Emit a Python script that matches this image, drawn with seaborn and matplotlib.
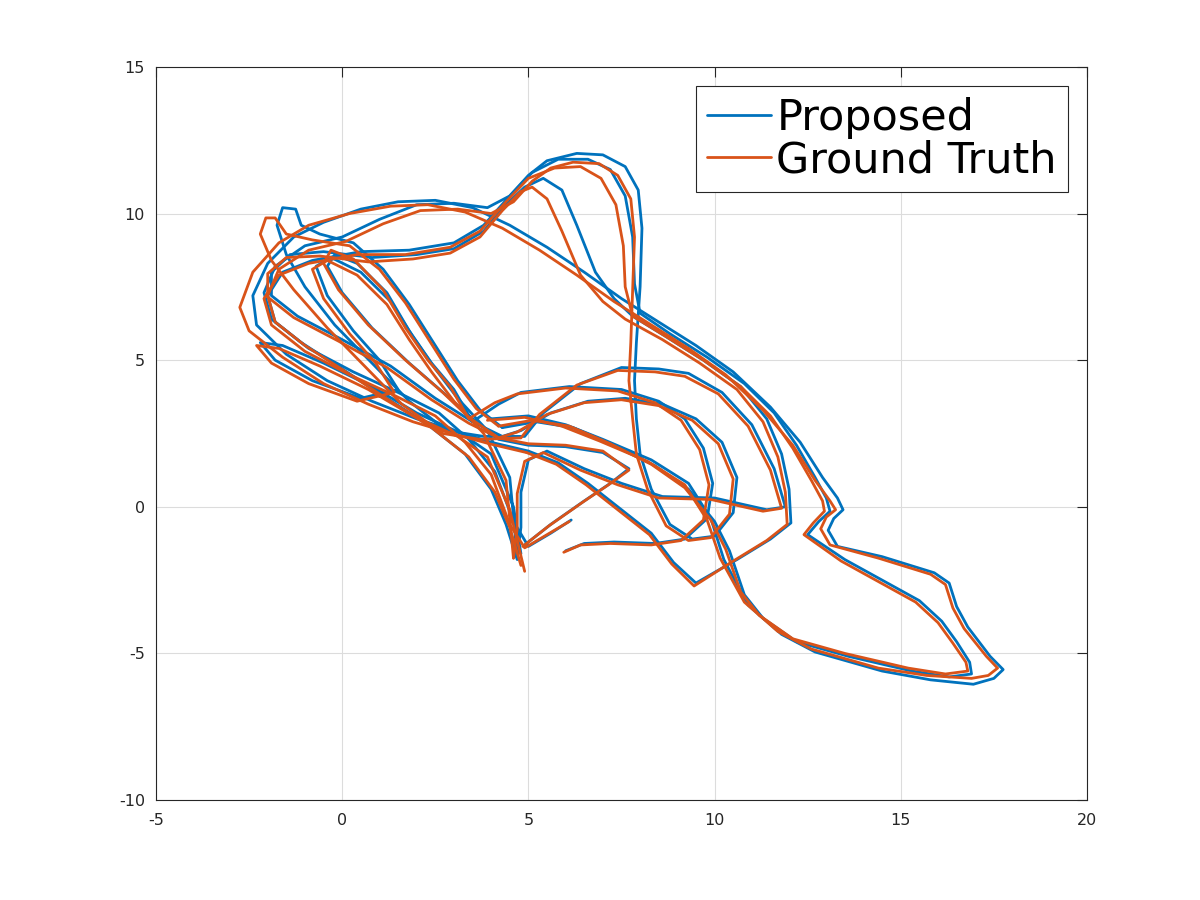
import pandas as pd
import seaborn as sns
import matplotlib.pyplot as plt
from matplotlib.lines import Line2D

# trajektori verisi, grafikten okunan yaklasik noktalar (x, y)
prop_lap1 = [(4.7,-1.8),(4.4,-0.6),(4.0,0.6),(3.3,1.8),(2.3,2.8),(1.2,3.7),(0.0,4.7),(-1.1,5.6),(-1.9,6.4),(-2.1,7.3),(-1.8,8.2),(-1.0,8.9),(0.0,9.2),(1.0,9.8),(2.0,10.3),(3.0,10.35),(3.9,10.2),(4.5,10.6),(5.0,11.3),(5.5,11.8),(6.3,12.05),(7.0,12.0),(7.6,11.6),(7.95,10.8),(8.05,9.5),(8.0,7.5),(7.9,5.6),(7.85,4.3),(7.9,3.0),(8.0,1.8),(8.3,0.6),(8.8,-0.6),(9.4,-1.1),(10.0,-1.0),(10.5,-0.2),(10.6,1.0),(10.2,2.2),(9.5,3.0),(8.6,3.5),(7.6,3.7),(6.6,3.6),(5.6,3.2),(4.8,2.6),(4.3,2.4)]
prop_lap2 = [(4.3,2.4),(3.5,2.9),(2.5,3.7),(1.3,4.8),(0.0,5.7),(-1.2,6.5),(-1.9,7.2),(-1.9,8.0),(-1.4,8.6),(-0.5,8.7),(0.8,8.5),(2.0,8.6),(3.0,8.8),(3.8,9.4),(4.4,10.3),(4.9,10.9),(5.4,11.2),(5.9,10.8),(6.3,9.6),(6.8,8.0),(7.3,7.1),(7.8,6.5),(8.7,5.8),(9.7,5.0),(10.7,4.1),(11.4,3.0),(11.8,1.8),(12.0,0.6),(12.05,-0.55),(11.5,-1.1),(10.6,-1.8),(9.5,-2.6),(8.9,-1.9),(8.3,-0.9),(7.5,-0.1),(6.6,0.8),(5.8,1.5),(5.0,1.9)]
prop_lap3 = [(5.0,1.9),(4.0,2.2),(3.0,2.6),(2.0,3.0),(0.8,3.6),(-0.4,4.3),(-1.5,5.2),(-2.3,6.2),(-2.4,7.2),(-2.0,8.3),(-1.3,9.2),(-0.5,9.7),(0.5,10.15),(1.5,10.4),(2.5,10.45),(3.5,10.2),(4.5,9.6),(5.5,8.85),(6.5,8.0),(7.5,7.1),(8.5,6.3),(9.5,5.5),(10.5,4.6),(11.5,3.4),(12.3,2.2),(12.9,1.0),(13.3,0.3),(13.45,-0.1),(13.2,-0.4),(13.05,-0.8),(13.3,-1.35),(14.5,-1.7),(15.9,-2.25),(16.3,-2.6),(16.5,-3.4),(16.8,-4.1),(17.4,-5.1),(17.75,-5.55),(17.5,-5.85),(16.95,-6.05),(15.8,-5.9),(14.5,-5.6),(12.7,-4.95),(11.8,-4.35),(10.9,-3.35),(10.25,-1.8),(9.9,-0.4),(9.3,0.8),(8.3,1.6),(7.0,2.3),(6.0,2.8),(5.0,3.1),(4.0,3.0)]
prop_lap4 = [(4.9,-1.3),(5.6,-0.6),(6.5,0.2),(7.2,0.8),(7.7,1.3),(7.0,1.85),(6.0,2.05),(5.0,2.1),(4.2,2.3),(3.5,3.0),(2.8,3.8),(1.8,4.9),(0.8,6.1),(0.0,7.3),(-0.4,8.2),(-0.2,8.6),(0.4,8.3),(1.2,7.3),(1.8,6.0),(2.4,4.9),(3.0,4.0),(3.5,2.9),(4.2,3.5),(4.8,3.9),(6.1,4.1),(7.5,4.0),(8.5,3.6),(9.2,3.0),(9.7,2.0),(9.95,0.8),(9.8,-0.4),(9.2,-1.1),(8.4,-1.25),(7.3,-1.2),(6.5,-1.25),(6.0,-1.5)]
prop_lap5 = [(6.15,-0.45),(5.6,-0.9),(5.0,-1.35),(4.6,-0.5),(4.1,1.2),(3.4,2.3),(2.6,3.2),(1.5,3.9),(0.3,4.6),(-0.9,5.4),(-1.8,6.3),(-2.0,7.2),(-1.6,8.0),(-0.8,8.4),(0.5,8.7),(1.8,8.75),(3.0,9.0),(3.8,9.6),(4.5,10.6),(5.1,11.4),(5.8,11.85),(6.6,11.85),(7.2,11.5),(7.6,10.6),(7.8,9.2),(7.85,7.6),(8.0,6.6),(8.8,5.9),(9.8,5.1),(10.8,4.2),(11.6,3.2),(12.2,2.1),(12.7,1.0),(13.0,0.3),(13.1,-0.15),(12.8,-0.5),(12.5,-0.95),(13.5,-1.8),(14.5,-2.5),(15.5,-3.2),(16.1,-3.9),(16.5,-4.6),(16.85,-5.3),(16.9,-5.7),(16.3,-5.8),(15.3,-5.6),(13.6,-5.1),(12.2,-4.6),(11.3,-3.8),(10.8,-3.0),(10.4,-1.5),(10.0,-0.5),(9.3,0.6),(8.4,1.4),(7.3,2.1),(6.2,2.7),(5.2,2.9),(4.3,2.7)]
prop_lap6 = [(4.3,2.7),(3.7,3.3),(3.1,4.3),(2.5,5.5),(1.8,6.9),(1.1,8.1),(0.3,9.0),(-0.6,9.3),(-1.1,9.6),(-1.25,10.15),(-1.6,10.2),(-1.75,9.6),(-1.5,8.6),(-1.0,7.5),(-0.2,6.2),(0.8,4.9),(1.8,3.6),(2.8,2.6),(3.8,2.4),(4.9,2.4),(5.4,3.2),(6.4,4.2),(7.5,4.75),(8.5,4.7),(9.3,4.55),(10.2,3.9),(11.0,2.8),(11.6,1.3),(11.9,0.0),(11.4,-0.1),(10.0,0.3),(8.6,0.35),(7.5,0.8),(6.5,1.3),(5.5,1.9),(5.0,1.6),(4.8,0.5),(4.8,-0.7),(4.7,-1.7)]
prop_lap7 = [(4.7,-1.7),(4.5,1.0),(3.9,2.6),(3.1,3.7),(2.5,4.7),(1.9,5.8),(1.3,7.0),(0.5,8.0),(-0.3,8.5),(-0.7,8.2),(-0.4,7.2),(0.3,6.0),(1.0,5.0),(1.5,4.0),(0.5,3.7),(-0.8,4.3),(-1.8,5.0),(-2.2,5.6),(-1.6,5.5),(-0.5,4.9),(0.8,4.1),(2.0,3.2),(3.2,2.5),(4.0,1.8),(4.6,0.0),(4.8,-1.6)]

gt_lap1 = [(4.8,-2.0),(4.5,-0.7),(4.1,0.5),(3.4,1.7),(2.4,2.7),(1.3,3.6),(0.1,4.6),(-1.0,5.5),(-1.8,6.3),(-2.0,7.2),(-1.7,8.1),(-0.9,8.75),(0.1,9.05),(1.1,9.65),(2.1,10.1),(3.1,10.15),(4.0,10.0),(4.6,10.4),(5.1,11.1),(5.6,11.55),(6.2,11.75),(6.9,11.7),(7.4,11.3),(7.75,10.5),(7.85,9.2),(7.8,7.4),(7.75,5.6),(7.7,4.3),(7.8,3.0),(7.9,1.8),(8.2,0.6),(8.7,-0.65),(9.3,-1.15),(9.9,-1.05),(10.4,-0.25),(10.5,0.95),(10.1,2.15),(9.4,2.95),(8.5,3.45),(7.5,3.65),(6.5,3.55),(5.5,3.15),(4.7,2.55),(4.2,2.35)]
gt_lap2 = [(4.2,2.35),(3.4,2.85),(2.4,3.65),(1.2,4.75),(-0.1,5.65),(-1.3,6.45),(-2.0,7.15),(-2.0,7.95),(-1.5,8.5),(-0.6,8.55),(0.7,8.35),(1.9,8.45),(2.9,8.65),(3.7,9.2),(4.3,10.1),(4.8,10.75),(5.1,10.9),(5.5,10.5),(5.9,9.4),(6.4,7.9),(7.0,7.0),(7.6,6.4),(8.6,5.7),(9.6,4.9),(10.6,4.0),(11.3,2.9),(11.7,1.7),(11.9,0.5),(11.95,-0.6),(11.4,-1.15),(10.5,-1.85),(9.45,-2.7),(8.85,-1.95),(8.25,-0.95),(7.45,-0.15),(6.55,0.75),(5.75,1.45),(4.95,1.85)]
gt_lap3 = [(4.95,1.85),(3.95,2.15),(2.95,2.5),(1.9,2.9),(0.7,3.5),(-0.5,4.2),(-1.6,5.1),(-2.5,6.0),(-2.75,6.8),(-2.4,8.0),(-1.7,9.0),(-0.9,9.6),(0.2,10.0),(1.3,10.25),(2.3,10.3),(3.3,10.05),(4.3,9.5),(5.3,8.75),(6.3,7.9),(7.3,7.0),(8.3,6.2),(9.3,5.4),(10.3,4.5),(11.3,3.3),(12.1,2.1),(12.7,0.9),(13.1,0.2),(13.25,-0.1),(13.0,-0.35),(12.85,-0.75),(13.1,-1.3),(14.4,-1.75),(15.8,-2.3),(16.2,-2.65),(16.4,-3.45),(16.7,-4.15),(17.3,-5.1),(17.6,-5.5),(17.35,-5.75),(16.9,-5.85),(15.7,-5.75),(14.4,-5.5),(12.6,-4.85),(11.7,-4.25),(10.8,-3.25),(10.15,-1.75),(9.8,-0.45),(9.2,0.75),(8.2,1.55),(6.9,2.25),(5.9,2.75),(4.9,3.05),(3.9,2.95)]
gt_lap4 = [(4.85,-1.35),(5.55,-0.65),(6.45,0.15),(7.15,0.75),(7.7,1.25),(7.0,1.9),(6.0,2.1),(5.0,2.15),(4.2,2.35),(3.4,3.05),(2.7,3.9),(1.7,5.0),(0.7,6.2),(-0.1,7.4),(-0.5,8.3),(-0.3,8.75),(0.3,8.45),(1.1,7.4),(1.7,6.1),(2.3,5.0),(2.9,4.1),(3.4,3.0),(4.1,3.55),(4.7,3.85),(6.0,4.05),(7.4,3.95),(8.4,3.55),(9.1,2.95),(9.6,1.95),(9.85,0.75),(9.7,-0.45),(9.1,-1.15),(8.3,-1.3),(7.2,-1.25),(6.4,-1.3),(5.95,-1.55)]
gt_lap5 = [(6.1,-0.5),(5.5,-0.95),(4.9,-1.4),(4.5,-0.6),(4.0,1.1),(3.3,2.2),(2.5,3.1),(1.4,3.8),(0.2,4.5),(-1.0,5.3),(-1.9,6.2),(-2.1,7.1),(-1.7,7.9),(-0.9,8.3),(0.4,8.6),(1.7,8.6),(2.9,8.85),(3.7,9.4),(4.4,10.4),(5.0,11.2),(5.7,11.55),(6.4,11.6),(6.95,11.2),(7.35,10.3),(7.55,8.9),(7.6,7.5),(7.8,6.5),(8.7,5.8),(9.7,5.0),(10.7,4.1),(11.5,3.1),(12.1,2.0),(12.6,0.9),(12.9,0.2),(12.95,-0.15),(12.65,-0.55),(12.4,-0.95),(13.4,-1.85),(14.4,-2.55),(15.4,-3.25),(16.0,-3.95),(16.4,-4.65),(16.75,-5.3),(16.8,-5.6),(16.2,-5.7),(15.2,-5.5),(13.5,-5.0),(12.1,-4.5),(11.2,-3.7),(10.7,-2.9),(10.3,-1.45),(9.9,-0.45),(9.2,0.65),(8.3,1.45),(7.2,2.15),(6.1,2.75),(5.1,2.95),(4.2,2.75)]
gt_lap6 = [(4.2,2.75),(3.6,3.35),(3.0,4.35),(2.4,5.55),(1.7,6.95),(1.0,8.1),(0.2,8.9),(-0.8,9.1),(-1.5,9.3),(-1.8,9.85),(-2.05,9.85),(-2.2,9.3),(-1.9,8.4),(-1.3,7.4),(-0.4,6.1),(0.6,4.8),(1.6,3.5),(2.7,2.5),(3.7,2.3),(4.8,2.35),(5.3,3.15),(6.3,4.15),(7.4,4.65),(8.4,4.6),(9.2,4.45),(10.1,3.85),(10.9,2.75),(11.5,1.25),(11.8,-0.05),(11.3,-0.15),(9.9,0.25),(8.5,0.3),(7.4,0.75),(6.4,1.25),(5.4,1.85),(4.9,1.55),(4.7,0.45),(4.7,-0.75),(4.6,-1.75)]
gt_lap7 = [(4.6,-1.75),(4.4,0.9),(3.8,2.5),(3.0,3.6),(2.4,4.6),(1.8,5.7),(1.2,6.9),(0.4,7.9),(-0.4,8.4),(-0.8,8.1),(-0.5,7.1),(0.2,5.9),(0.9,4.9),(1.4,3.9),(0.4,3.6),(-0.9,4.2),(-1.9,4.9),(-2.3,5.5),(-1.7,5.4),(-0.6,4.8),(0.7,4.0),(1.9,3.1),(3.1,2.4),(3.9,1.7),(4.5,-0.1),(4.9,-2.2)]

prop_laps = [prop_lap1, prop_lap2, prop_lap3, prop_lap4, prop_lap5, prop_lap6, prop_lap7]
gt_laps = [gt_lap1, gt_lap2, gt_lap3, gt_lap4, gt_lap5, gt_lap6, gt_lap7]
series_names = ['Proposed', 'Ground Truth']
series_colors = ['#0072BD', '#D95319']

# uzun formatta tablo
rows = []
for name, laps in zip(series_names, [prop_laps, gt_laps]):
    for i, lap in enumerate(laps):
        for x, y in lap:
            rows.append({'x': x, 'y': y, 'series': name, 'lap': f'{name}_{i}'})
df = pd.DataFrame(rows)

sns.set_style('white')
plt.rcParams['font.family'] = ['DejaVu Sans']
plt.rcParams['axes.unicode_minus'] = False

fig = plt.figure(figsize=(12, 9), dpi=100)
ax = fig.add_axes([0.13, 0.111, 0.7758, 0.8147])

sns.lineplot(data=df, x='x', y='y', hue='series', hue_order=series_names,
             palette=series_colors, units='lap', estimator=None, sort=False,
             linewidth=2.0, legend=False, ax=ax)

ax.set_xlim(-5, 20)
ax.set_ylim(-10, 15)
ax.set_xticks(range(-5, 21, 5))
ax.set_yticks(range(-10, 16, 5))
ax.set_xlabel('')
ax.set_ylabel('')
ax.grid(True, color='#dcdcdc', linewidth=0.8)
ax.set_axisbelow(True)
for s in ax.spines.values():
    s.set_visible(True)
    s.set_color('#262626')
    s.set_linewidth(0.8)
ax.tick_params(direction='in', length=7, width=0.8, colors='#262626',
               labelsize=11.5, top=True, right=True)
ax.tick_params(axis='x', pad=9)
ax.tick_params(axis='y', pad=8)

handles = [Line2D([0], [0], color=c, lw=2.0) for c in series_colors]
leg = ax.legend(handles, series_names, loc='upper right', fontsize=31,
                handlelength=1.5, handletextpad=0.12, labelspacing=0.0,
                borderpad=0.25, borderaxespad=0.45, fancybox=False,
                framealpha=1, edgecolor='#262626', labelcolor='black')
leg.get_frame().set_linewidth(0.8)

plt.savefig('out.png', dpi=100)
